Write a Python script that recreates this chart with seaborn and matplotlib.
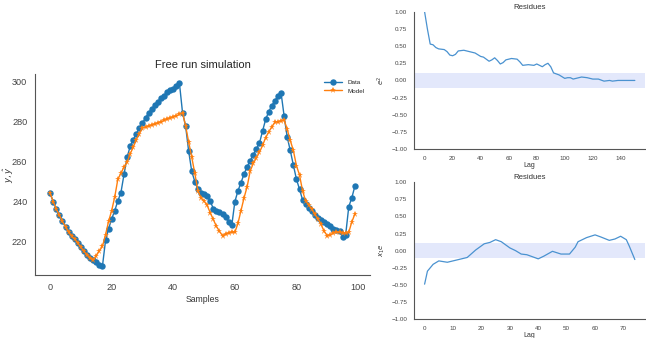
import numpy as np
import pandas as pd
import matplotlib
matplotlib.use("Agg")
import matplotlib.pyplot as plt
import seaborn as sns

# free run simulation
data_y = [244.1, 240.0, 236.2, 233.2, 230.1, 227.3, 224.6, 222.5, 221.2, 219.1,
          217.0, 215.0, 213.3, 211.9, 210.7, 209.9, 208.0, 207.7, 220.5, 226.4,
          231.3, 235.5, 240.3, 244.5, 253.6, 262.2, 267.6, 271.0, 274.0, 276.7,
          279.4, 281.9, 284.5, 286.3, 288.4, 290.0, 291.7, 292.9, 294.8, 296.0,
          296.6, 297.8, 299.3, 284.6, 277.9, 265.2, 255.1, 250.0, 246.2, 244.5,
          243.6, 242.8, 240.3, 236.4, 235.5, 234.7, 233.5, 232.3, 229.8, 228.0,
          239.9, 245.3, 249.5, 253.8, 257.5, 260.5, 263.5, 266.4, 269.3, 275.3,
          281.1, 285.0, 288.0, 290.5, 292.9, 294.6, 282.9, 272.3, 265.6, 258.3,
          251.2, 246.2, 240.8, 238.6, 236.9, 235.2, 233.2, 231.8, 230.6, 229.8,
          228.9, 227.6, 226.2, 225.6, 225.1, 222.2, 223.4, 237.4, 241.9, 247.8]
model_y = [244.1, 240.0, 236.2, 233.2, 230.1, 227.3, 224.6, 222.5, 221.2, 219.1,
           217.0, 215.0, 213.3, 211.9, 210.7, 212.9, 215.3, 217.5, 223.4, 230.1,
           235.5, 242.4, 251.2, 254.1, 257.3, 259.6, 263.9, 267.2, 271.0, 274.0,
           276.7, 277.4, 277.7, 278.3, 278.8, 279.4, 280.0, 280.6, 281.2, 281.8,
           282.4, 283.0, 283.6, 284.6, 277.9, 269.8, 262.2, 254.1, 245.3, 241.9,
           240.3, 238.1, 234.4, 231.0, 227.6, 225.1, 222.9, 223.6, 224.2, 224.6,
           224.6, 229.0, 235.5, 241.9, 247.5, 255.4, 259.1, 261.9, 264.7, 268.1,
           272.0, 274.8, 277.4, 279.6, 279.9, 280.3, 280.8, 276.2, 270.6, 265.6,
           258.0, 253.3, 245.3, 240.3, 238.2, 236.1, 233.5, 231.3, 228.5, 225.1,
           222.9, 223.4, 224.2, 224.6, 224.6, 224.2, 224.2, 224.6, 229.8, 233.8]
samples = list(range(len(data_y)))

# residue autocorrelations
lag_e2 = [0, 2, 4, 6, 8, 10, 14, 16, 18, 20, 22, 24, 28, 32, 36, 40, 42, 46, 48,
          50, 52, 54, 56, 58, 62, 66, 68, 70, 74, 78, 80, 84, 86, 88, 90, 92, 96,
          100, 102, 104, 106, 108, 112, 116, 120, 124, 128, 132, 134, 138, 150]
acf_e2 = [1.0, 0.75, 0.53, 0.52, 0.48, 0.46, 0.45, 0.42, 0.37, 0.36, 0.38, 0.43,
          0.44, 0.42, 0.40, 0.35, 0.34, 0.28, 0.30, 0.33, 0.29, 0.24, 0.26, 0.30,
          0.32, 0.31, 0.27, 0.22, 0.23, 0.22, 0.24, 0.20, 0.23, 0.25, 0.20, 0.11,
          0.08, 0.03, 0.04, 0.04, 0.02, 0.03, 0.05, 0.04, 0.02, 0.02, -0.01, 0.0,
          -0.01, 0.0, 0.0]
lag_x1e = [0, 1, 3, 5, 8, 10, 13, 15, 18, 21, 23, 25, 27, 30, 32, 34, 36, 40, 42,
           45, 48, 51, 53, 54, 57, 60, 62, 65, 67, 69, 71, 72, 74]
acf_x1e = [-0.49, -0.30, -0.20, -0.15, -0.17, -0.15, -0.12, -0.10, 0.01, 0.10,
           0.12, 0.16, 0.13, 0.04, 0.0, -0.05, -0.06, -0.12, -0.08, -0.01, -0.05,
           -0.05, 0.05, 0.13, 0.19, 0.23, 0.20, 0.15, 0.17, 0.21, 0.16, 0.07, -0.13]
conf = 0.11

sns.set_style("white")
plt.rcParams["font.family"] = ["Liberation Sans", "DejaVu Sans"]
plt.rcParams["axes.edgecolor"] = "#555555"

fig = plt.figure(figsize=(6.46, 3.38), dpi=100)

# main plot
ax = fig.add_axes([0.054, 0.186, 0.519, 0.595])
sns.lineplot(x=samples, y=data_y, ax=ax, marker="o", color="#1f77b4", label="Data",
             markersize=4.6, markeredgewidth=0, linewidth=1)
sns.lineplot(x=samples, y=model_y, ax=ax, marker="*", color="#ff7f0e", label="Model",
             markersize=5, markeredgewidth=0, linewidth=1)
ax.set_title("Free run simulation", fontsize=8, color="#262626", pad=4)
ax.set_xlabel("Samples", fontsize=6.2, color="#333333", labelpad=2)
ax.set_ylabel(r"$y, \hat{y}$", fontsize=6.2, color="#333333")
ax.yaxis.set_label_coords(-0.056, 0.5)
ax.set_xticks([0, 20, 40, 60, 80, 100])
ax.set_yticks([220, 240, 260, 280, 300])
ax.tick_params(labelsize=6.6, colors="#444444", pad=2)
ax.legend(loc="upper right", frameon=False, fontsize=4.5, handlelength=3)
sns.despine(ax=ax)

# residue plots
def acf_panel(rect, lags, vals, ylab):
    a = fig.add_axes(rect)
    a.axhspan(-conf, conf, color="#e3e8fb", linewidth=0)
    sns.lineplot(x=lags, y=vals, ax=a, color="#4a92d0", linewidth=0.9)
    a.set_ylim(-1, 1)
    a.set_yticks(np.linspace(-1, 1, 9))
    a.set_title("Residues", fontsize=5.6, pad=2, color="#333333")
    a.set_xlabel("Lag", fontsize=5, labelpad=1, color="#333333")
    a.set_ylabel(ylab, fontsize=5, color="#333333", labelpad=3)
    a.tick_params(labelsize=4.5, colors="#444444", pad=1.5)
    sns.despine(ax=a)
    return a

acf_panel([0.641, 0.559, 0.358, 0.406], lag_e2, acf_e2, r"$e^2$")
acf_panel([0.641, 0.056, 0.358, 0.405], lag_x1e, acf_x1e, r"$x_1e$")

fig.savefig("out.png", dpi=100)
